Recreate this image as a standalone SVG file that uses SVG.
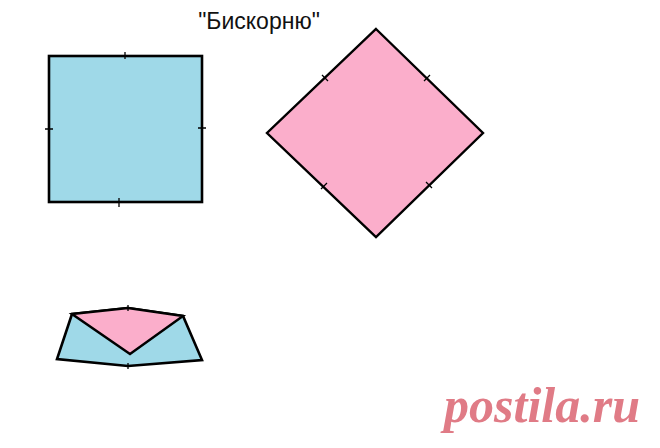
<svg xmlns="http://www.w3.org/2000/svg" width="660" height="448" viewBox="0 0 660 448">
<style>
.blue{fill:#9fd9e8;stroke:#000;stroke-width:2.6;stroke-linejoin:miter}
.pink{fill:#fbaecb;stroke:#000;stroke-width:2.4;stroke-linejoin:miter}
.tick{stroke:#000;stroke-width:1.3;fill:none}
.title{font-family:"Liberation Sans",Arial,sans-serif;font-size:23px;fill:#111}
.wm{font-family:"Liberation Serif","Times New Roman",serif;font-weight:bold;font-style:italic;font-size:50px;fill:#e07b86}
</style>
<rect width="660" height="448" fill="#fff"/>
<text class="title" x="259" y="29" text-anchor="middle">"Бискорню"</text>
<g id="square">
<rect class="blue" x="49" y="56" width="153" height="146"/>
<path class="tick" d="M125,52V59 M45,129H53 M198,128H206 M119,198V207"/>
</g>
<g id="diamond">
<polygon class="pink" points="376,29 483,133 376,237 267,133"/>
<path class="tick" d="M322,75L328,81 M430,75L424,81 M321,189L327,183 M432,188L426,182"/>
</g>
<g id="envelope">
<polygon class="blue" points="72,314 128,308 183,316 202,360 128,366 57,359"/>
<polygon class="pink" points="72,314 128,308 183,316 130,354"/>
<path class="tick" d="M128,305V311 M128,363V369"/>
</g>
<text class="wm" x="444" y="422" textLength="196" lengthAdjust="spacingAndGlyphs">postila.ru</text>
</svg>
